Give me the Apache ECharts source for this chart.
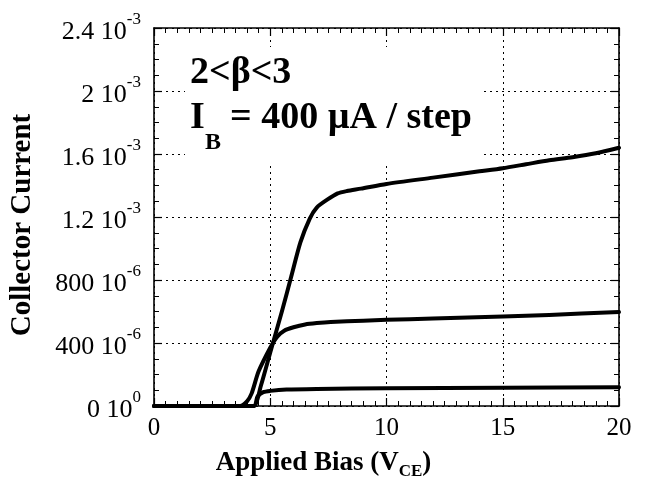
<!DOCTYPE html>
<html>
<head>
<meta charset="utf-8">
<script src="https://cdn.jsdelivr.net/npm/echarts@6/dist/echarts.min.js"></script>
<style>
html,body{margin:0;padding:0;background:#fff;}
#chart{width:646px;height:485px;}
</style>
</head>
<body>
<div id="chart"></div>
<script>
// Collector current (A) vs applied bias V_CE (V), three base-current steps
const vceHigh = [0, 4.0, 4.3, 4.6, 5.0, 5.5, 5.9, 6.3, 6.7, 7.0, 7.45, 7.9, 8.3, 8.9, 10, 12, 14, 15, 16, 17, 18, 19, 20];
const icHigh  = [0, 0, 0, 0.00013, 0.00034, 0.0006, 0.00082, 0.00104, 0.00119, 0.00126, 0.00131, 0.00135, 0.001365, 0.00138, 0.00141, 0.00145, 0.00149, 0.00151, 0.001535, 0.00156, 0.00158, 0.001605, 0.00164];

const vceMid = [0, 3.7, 4.0, 4.2, 4.5, 5.0, 5.3, 5.6, 6.0, 6.5, 7.0, 7.6, 9, 10, 12, 15, 17, 20];
const icMid  = [0, 0, 0.00003, 0.00008, 0.00022, 0.00037, 0.00044, 0.000478, 0.0005, 0.000518, 0.000527, 0.000534, 0.000542, 0.000548, 0.000555, 0.000568, 0.000578, 0.000597];

const vceLow = [0, 4.3, 4.45, 4.7, 5.0, 5.7, 7, 10, 15, 20];
const icLow  = [0, 0, 0.00006, 0.000088, 0.000096, 0.000104, 0.000108, 0.000113, 0.000116, 0.000119];

const xTicks = [0, 5, 10, 15, 20];
const yTickMantissa = ['0', '400', '800', '1.2', '1.6', '2', '2.4'];
const yTickExponent = ['0', '-6', '-6', '-3', '-3', '-3', '-3'];

const FONT = '"Liberation Serif", "Times New Roman", serif';

function zip(xs, ys) { return xs.map((x, i) => [x, ys[i]]); }

const chart = echarts.init(document.getElementById('chart'), null, {renderer: 'canvas'});

const tickLine = {show: true, inside: true, length: 8, lineStyle: {color: '#000', width: 1.2}};
const minorTick = {show: true, length: 5, lineStyle: {color: '#000', width: 1}};
const frameLine = {show: true, onZero: false, lineStyle: {color: '#000', width: 1.6}};

function lineSeries(name, xs, ys) {
  return {
    name: name, type: 'line', data: zip(xs, ys), showSymbol: false, symbol: 'none',
    smooth: 0.25,
    lineStyle: {color: '#000', width: 4, join: 'round', cap: 'round'}, z: 3
  };
}

chart.setOption({
  animation: false,
  backgroundColor: '#fff',
  grid: {left: 153, right: 27, top: 28, bottom: 74, containLabel: false},
  xAxis: [{
    type: 'value', min: 0, max: 20, interval: 5,
    axisLine: frameLine, axisTick: tickLine,
    minorTick: Object.assign({splitNumber: 10}, minorTick),
    splitLine: {show: true, lineStyle: {color: '#000', type: [2, 4], width: 1}},
    axisLabel: {
      color: '#000', fontFamily: FONT, fontSize: 25, margin: 10,
      formatter: v => xTicks.indexOf(v) >= 0 ? String(v) : ''
    },
    name: '{t|Applied Bias (V}{s|CE}{t|)}',
    nameLocation: 'middle', nameGap: 40,
    nameTextStyle: {
      padding: [0, 126, 0, 0],
      rich: {
        t: {fontFamily: FONT, fontWeight: 'bold', fontSize: 27, color: '#000', lineHeight: 34, verticalAlign: 'middle'},
        s: {fontFamily: FONT, fontWeight: 'bold', fontSize: 17, color: '#000', lineHeight: 34, verticalAlign: 'bottom'}
      }
    }
  }, {
    type: 'value', position: 'top', min: 0, max: 20, interval: 5,
    axisLine: frameLine, axisTick: tickLine,
    minorTick: Object.assign({splitNumber: 10}, minorTick),
    axisLabel: {show: false}, splitLine: {show: false}
  }],
  yAxis: [{
    type: 'value', min: 0, max: 0.0024, interval: 0.0004,
    axisLine: frameLine, axisTick: tickLine,
    minorTick: Object.assign({splitNumber: 4}, minorTick),
    splitLine: {show: true, lineStyle: {color: '#000', type: [2, 4], width: 1}},
    axisLabel: {
      margin: 13,
      formatter: function (v) {
        const i = Math.round(v / 0.0004);
        return '{m|' + yTickMantissa[i] + ' 10}{e|' + yTickExponent[i] + '}';
      },
      rich: {
        m: {fontFamily: FONT, fontSize: 26, color: '#000', lineHeight: 34, verticalAlign: 'bottom'},
        e: {fontFamily: FONT, fontSize: 17, color: '#000', lineHeight: 34, verticalAlign: 'top'}
      }
    },
    name: 'Collector Current',
    nameLocation: 'middle', nameGap: 117, nameRotate: 90,
    nameTextStyle: {fontFamily: FONT, fontWeight: 'bold', fontSize: 29, color: '#000', padding: [0, 16, 0, 0]}
  }, {
    type: 'value', position: 'right', min: 0, max: 0.0024, interval: 0.0004,
    axisLine: frameLine, axisTick: tickLine,
    minorTick: Object.assign({splitNumber: 4}, minorTick),
    axisLabel: {show: false}, splitLine: {show: false}
  }],
  graphic: [
    {type: 'rect', shape: {x: 185, y: 47, width: 299, height: 115}, style: {fill: '#fff'}, z: 1},
    {type: 'text', x: 190, y: 54, z: 4, style: {text: '2<β<3', font: 'bold 38px ' + FONT, fill: '#000'}},
    {type: 'text', x: 190, y: 99, z: 4, style: {text: 'I', font: 'bold 38px ' + FONT, fill: '#000'}},
    {type: 'text', x: 205, y: 131, z: 4, style: {text: 'B', font: 'bold 24px ' + FONT, fill: '#000'}},
    {type: 'text', x: 230, y: 99, z: 4, style: {text: '= 400 µA / step', font: 'bold 38px ' + FONT, fill: '#000'}}
  ],
  series: [
    lineSeries('High', vceHigh, icHigh),
    lineSeries('Mid', vceMid, icMid),
    lineSeries('Low', vceLow, icLow)
  ]
});
</script>
</body>
</html>
